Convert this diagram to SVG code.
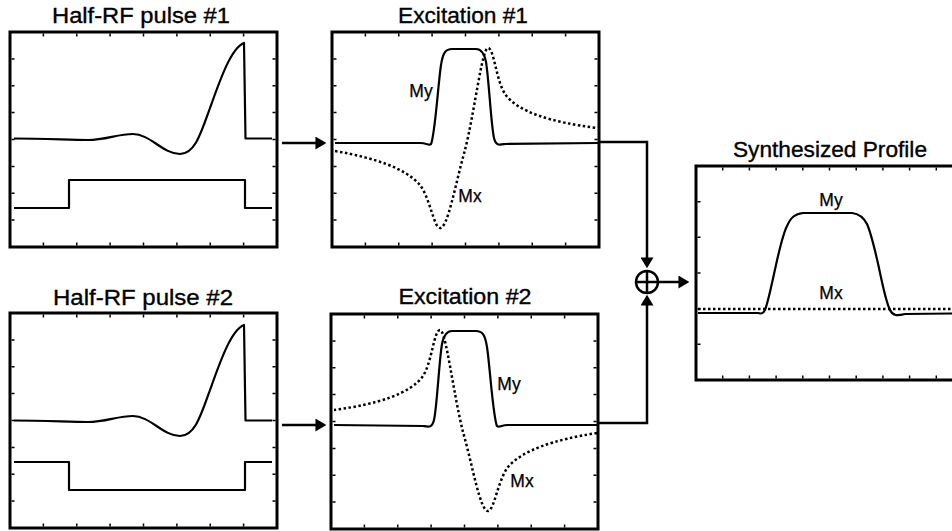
<svg xmlns="http://www.w3.org/2000/svg" xmlns:xlink="http://www.w3.org/1999/xlink" width="952" height="531" viewBox="0 0 952 531">
<style>
.frame{fill:none;stroke:#000;stroke-width:3}
.tick{fill:none;stroke:#000;stroke-width:1.5}
.curve{fill:none;stroke:#000;stroke-width:2.2;stroke-linejoin:round}
.dot{fill:none;stroke:#000;stroke-width:2.5;stroke-dasharray:2.5 2.5}
.conn{fill:none;stroke:#000;stroke-width:2.5}
.title{font-family:"Liberation Sans",Arial,sans-serif;font-size:22px;text-anchor:middle;fill:#000;stroke:#000;stroke-width:0.35}
.lbl{font-family:"Liberation Sans",Arial,sans-serif;font-size:17.5px;text-anchor:middle;fill:#000;stroke:#000;stroke-width:0.25}
</style>
<defs>
<marker id="ah" viewBox="0 0 10 12" refX="7" refY="6" markerWidth="11" markerHeight="13" markerUnits="userSpaceOnUse" orient="auto">
<path d="M0,0 L10,6 L0,12 z" fill="#000"/>
</marker>
<g id="frameA">
<rect class="frame" x="0" y="0" width="267" height="215"/>
<path class="tick" d="M33.4,1.5v3M66.75,1.5v3M100.1,1.5v3M133.5,1.5v3M166.9,1.5v3M200.25,1.5v3M233.6,1.5v3
M33.4,213.5v-3M66.75,213.5v-3M100.1,213.5v-3M133.5,213.5v-3M166.9,213.5v-3M200.25,213.5v-3M233.6,213.5v-3
M1.5,26.9h3M1.5,53.75h3M1.5,80.6h3M1.5,107.5h3M1.5,134.4h3M1.5,161.25h3M1.5,188.1h3
M265.5,26.9h-3M265.5,53.75h-3M265.5,80.6h-3M265.5,107.5h-3M265.5,134.4h-3M265.5,161.25h-3M265.5,188.1h-3"/>
</g>
<path id="rf" d="M14,138.5 C45,138.5 70,140 88,140 C106,140 117,134 133,134 C150,134 163,154 180,154 C195,154 201,133 210,108 C220,80 231,48 244,43 L245.5,138.5 L272,138.5"/>
</defs>

<g id="panel-half-rf-1">
<use xlink:href="#frameA" href="#frameA" x="10" y="32"/>
<use xlink:href="#rf" href="#rf" class="curve"/>
<path class="curve" d="M14,208 H69 V180 H245 V208 H272"/>
<text class="title" x="141" y="23" textLength="178" lengthAdjust="spacingAndGlyphs">Half-RF pulse #1</text>
</g>

<g id="panel-excitation-1">
<use xlink:href="#frameA" href="#frameA" x="332" y="32"/>
<path class="curve" d="M335,143 L420,143 C427,143 429,146 431,144 C435,135 438,85 441,65 C443,52 446,49 452,49 L476,49 C480,49 484,52 486,62 C489,80 491,125 494,138 C496,146 499,145 505,144 L598,143"/>
<path class="dot" d="M335,151 C375,158 405,168 420,185 C430,198 434,228 440,228 C448,228 455,185 465,150 C475,110 482,48 488,48 C494,48 496,80 505,94 C518,112 550,122 597,128"/>
<text class="lbl" x="421" y="97">My</text>
<text class="lbl" x="470" y="202">Mx</text>
<text class="title" x="463" y="23" textLength="130" lengthAdjust="spacingAndGlyphs">Excitation #1</text>
</g>

<g id="panel-half-rf-2">
<use xlink:href="#frameA" href="#frameA" x="10" y="313"/>
<use xlink:href="#rf" href="#rf" class="curve" transform="translate(0,282)"/>
<path class="curve" d="M14,462 H69 V490 H245 V462 H272"/>
<text class="title" x="143" y="305" textLength="180" lengthAdjust="spacingAndGlyphs">Half-RF pulse #2</text>
</g>

<g id="panel-excitation-2">
<use xlink:href="#frameA" href="#frameA" x="331" y="314"/>
<path class="curve" d="M597,425 L508,425 C501,425 499,428 497,426 C493,417 490,367 487,347 C485,334 482,331 476,331 L452,331 C448,331 444,334 442,344 C439,362 437,407 434,420 C432,428 429,427 423,426 L334,425"/>
<path class="dot" d="M597,433 C553,440 523,450 508,467 C498,480 494,511 488,511 C480,511 473,467 463,432 C453,392 446,330 440,330 C434,330 432,362 423,376 C410,394 378,404 334,410"/>
<text class="lbl" x="509" y="390">My</text>
<text class="lbl" x="522" y="487">Mx</text>
<text class="title" x="465" y="304" textLength="133" lengthAdjust="spacingAndGlyphs">Excitation #2</text>
</g>

<g id="panel-synthesized">
<rect class="frame" x="696" y="166" width="270" height="214"/>
<path class="tick" d="M722.7,167.5v3M749.4,167.5v3M776.1,167.5v3M802.8,167.5v3M829.5,167.5v3M856.2,167.5v3M882.9,167.5v3M909.6,167.5v3M936.3,167.5v3
M722.7,378.5v-3M749.4,378.5v-3M776.1,378.5v-3M802.8,378.5v-3M829.5,378.5v-3M856.2,378.5v-3M882.9,378.5v-3M909.6,378.5v-3M936.3,378.5v-3
M697.5,201.7h3M697.5,237.3h3M697.5,273h3M697.5,308.7h3M697.5,344.3h3"/>
<path class="curve" d="M698,313 L758,313 C761,314 763,314 765,310 C768,302 771,288 774,274 C778,256 782,236 787,226 C791,217 795,214 803,213 L852,213 C860,214 864,218 867,224 C871,233 875,250 879,268 C883,287 886,302 890,310 C893,316 897,316 905,314 L952,313.5"/>
<path class="dot" d="M698,309 H952"/>
<text class="lbl" x="831" y="206">My</text>
<text class="lbl" x="831" y="299">Mx</text>
<text class="title" x="830" y="157" textLength="194" lengthAdjust="spacingAndGlyphs">Synthesized Profile</text>
</g>

<g id="sum-node">
<circle cx="647" cy="282" r="11" fill="#fff" stroke="#000" stroke-width="2.5"/>
<path class="conn" d="M636,282 H658 M647,271 V293"/>
</g>

<g id="connectors">
<path class="conn" d="M282,143 H323" marker-end="url(#ah)"/>
<path class="conn" d="M282,425 H323" marker-end="url(#ah)"/>
<path class="conn" d="M599,142 H647 V265" marker-end="url(#ah)"/>
<path class="conn" d="M598,423 H647 V298" marker-end="url(#ah)"/>
<path class="conn" d="M659,282 H686" marker-end="url(#ah)"/>
</g>
</svg>
